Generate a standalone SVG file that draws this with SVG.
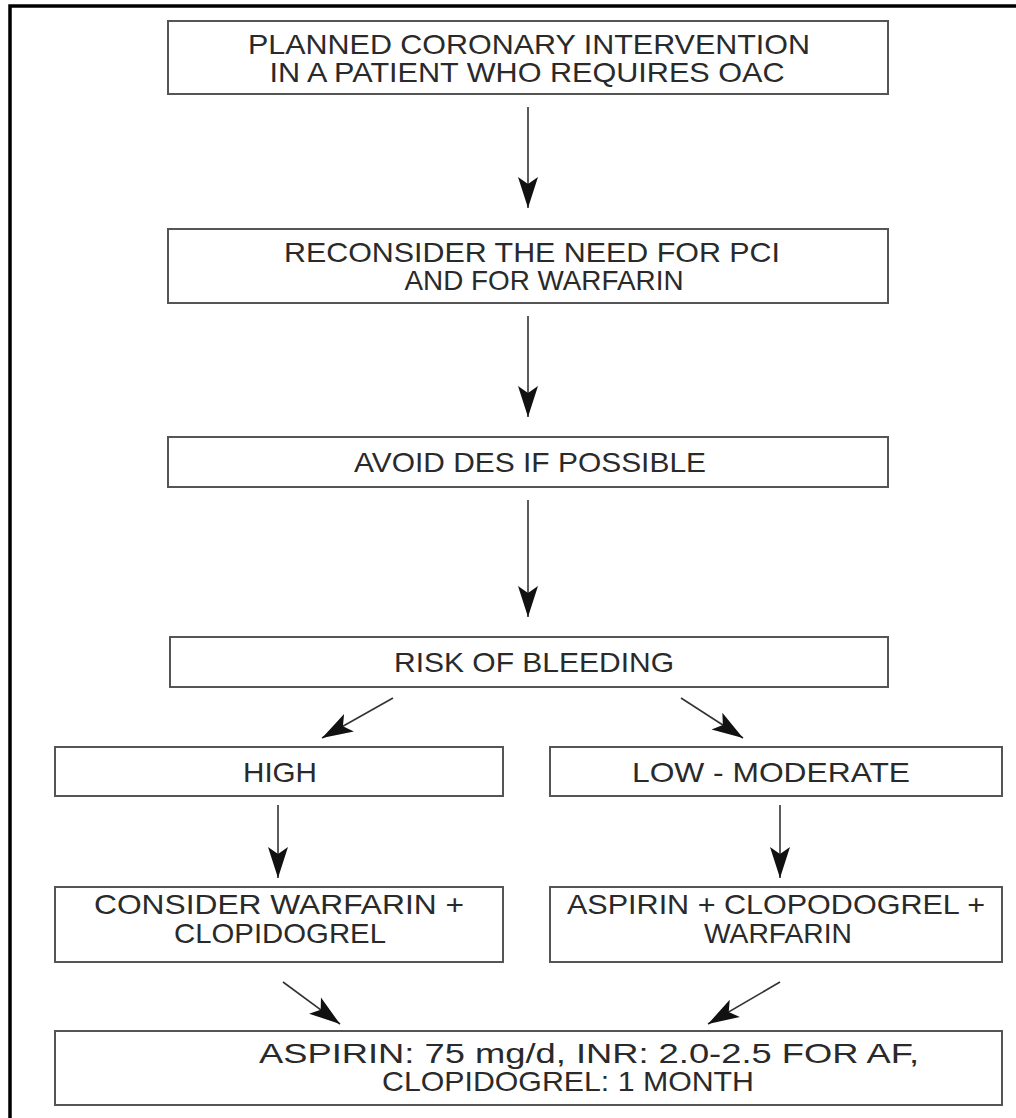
<svg xmlns="http://www.w3.org/2000/svg" width="1016" height="1118" viewBox="0 0 1016 1118">
<style>
.box{fill:#fff;stroke:#555;stroke-width:2}
.t{font-family:"Liberation Sans",Arial,sans-serif;font-size:28px;fill:#2a2a2a;text-anchor:middle}
.c{stroke:#333;stroke-width:1.6;fill:none}
</style>
<defs>
<marker id="ah" viewBox="-32 -11 33 22" refX="0" refY="0" markerWidth="33" markerHeight="22" markerUnits="userSpaceOnUse" orient="auto">
<path d="M0,0 L-31,-10 L-24,0 L-31,10 Z" fill="#111"/>
</marker>
</defs>
<rect width="1016" height="1118" fill="#fff"/>
<path d="M10,1118 V6 H1016" fill="none" stroke="#000" stroke-width="3.5"/>

<g id="n1"><rect class="box" x="168" y="21" width="720" height="73"/>
<text class="t" x="529" y="54" textLength="562" lengthAdjust="spacingAndGlyphs">PLANNED CORONARY INTERVENTION</text>
<text class="t" x="527" y="82" textLength="515" lengthAdjust="spacingAndGlyphs">IN A PATIENT WHO REQUIRES OAC</text></g>

<g id="n2"><rect class="box" x="168" y="229" width="720" height="74"/>
<text class="t" x="532" y="262" textLength="496" lengthAdjust="spacingAndGlyphs">RECONSIDER THE NEED FOR PCI</text>
<text class="t" x="544" y="290" textLength="279" lengthAdjust="spacingAndGlyphs">AND FOR WARFARIN</text></g>

<g id="n3"><rect class="box" x="168" y="437" width="720" height="50"/>
<text class="t" x="530" y="472" textLength="352" lengthAdjust="spacingAndGlyphs">AVOID DES IF POSSIBLE</text></g>

<g id="n4"><rect class="box" x="170" y="637" width="718" height="50"/>
<text class="t" x="534" y="672" textLength="280" lengthAdjust="spacingAndGlyphs">RISK OF BLEEDING</text></g>

<g id="n5"><rect class="box" x="55" y="747" width="448" height="49"/>
<text class="t" x="280" y="782" textLength="74" lengthAdjust="spacingAndGlyphs">HIGH</text></g>

<g id="n6"><rect class="box" x="550" y="747" width="452" height="49"/>
<text class="t" x="771" y="782" textLength="278" lengthAdjust="spacingAndGlyphs">LOW - MODERATE</text></g>

<g id="n7"><rect class="box" x="55" y="887" width="448" height="75"/>
<text class="t" x="279" y="914" textLength="370" lengthAdjust="spacingAndGlyphs">CONSIDER WARFARIN +</text>
<text class="t" x="280" y="943" textLength="212" lengthAdjust="spacingAndGlyphs">CLOPIDOGREL</text></g>

<g id="n8"><rect class="box" x="550" y="887" width="452" height="75"/>
<text class="t" x="776" y="914" textLength="418" lengthAdjust="spacingAndGlyphs">ASPIRIN + CLOPODOGREL +</text>
<text class="t" x="778" y="943" textLength="148" lengthAdjust="spacingAndGlyphs">WARFARIN</text></g>

<g id="n9"><rect class="box" x="55" y="1031" width="947" height="74"/>
<text class="t" x="589" y="1063" textLength="660" lengthAdjust="spacingAndGlyphs">ASPIRIN: 75 mg/d, INR: 2.0-2.5 FOR AF,</text>
<text class="t" x="568" y="1091" textLength="372" lengthAdjust="spacingAndGlyphs">CLOPIDOGREL: 1 MONTH</text></g>

<g id="connectors">
<path class="c" d="M528,107 V208" marker-end="url(#ah)"/>
<path class="c" d="M528,316 V417" marker-end="url(#ah)"/>
<path class="c" d="M528,500 V617" marker-end="url(#ah)"/>
<path class="c" d="M393,698 L322,738" marker-end="url(#ah)"/>
<path class="c" d="M681,698 L743,738" marker-end="url(#ah)"/>
<path class="c" d="M278,805 V878" marker-end="url(#ah)"/>
<path class="c" d="M780,805 V878" marker-end="url(#ah)"/>
<path class="c" d="M283,982 L340,1024" marker-end="url(#ah)"/>
<path class="c" d="M780,982 L708,1024" marker-end="url(#ah)"/>
</g>
</svg>
